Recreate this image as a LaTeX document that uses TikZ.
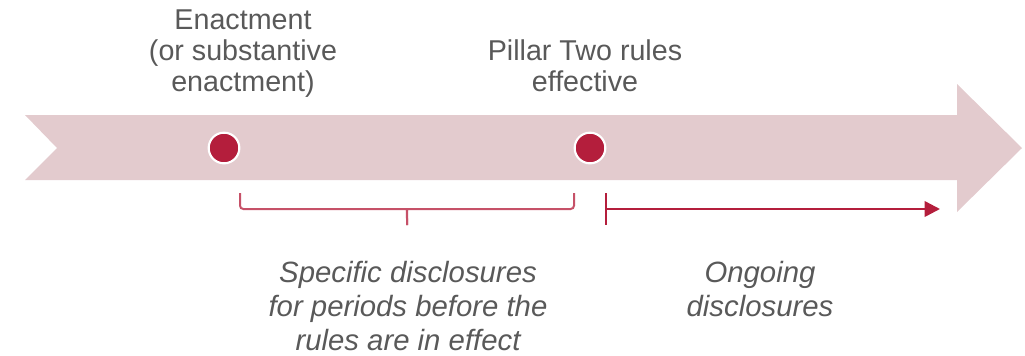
\documentclass[tikz,border=0pt]{standalone}
\usepackage{fontspec}
\setmainfont{Liberation Sans}
\usepackage{tikz}
\usetikzlibrary{arrows.meta}
\definecolor{bandpink}{HTML}{E3CBCE}
\definecolor{dotred}{HTML}{B41E3C}
\definecolor{bracered}{HTML}{C65168}
\definecolor{textgrey}{HTML}{595959}

\begin{document}
\begin{tikzpicture}[x=0.75pt,y=-0.75pt,
        label/.style={text=textgrey,align=center,anchor=base,inner sep=0pt,
            font=\fontsize{21.5}{23.25}\selectfont},
        note/.style={label,font=\fontsize{22}{25.5}\selectfont\itshape},
        milestone/.style={circle,fill=dotred,draw=white,line width=1.6pt,
            minimum size=23pt,inner sep=0pt}]
    \useasboundingbox (0,0) rectangle (1025,355);
    % timeline band
    \fill[bandpink] (25,115) -- (957,115) -- (957,84) -- (1022,148) -- (957,212)
        -- (957,180) -- (25,180) -- (57,148) -- cycle;
    % milestones
    \node[milestone] (enact) at (224,148) {};
    \node[milestone] (effect) at (590,148) {};
    \node[label] (enacttxt) at (243,91) {Enactment\\(or substantive\\enactment)};
    \node[label] (effecttxt) at (585,91) {Pillar Two rules\\effective};
    % brace under the first period
    \coordinate (bl) at (240,193);
    \coordinate (br) at (574,193);
    \coordinate (bm) at (407,225);
    \draw[bracered,line width=1.5pt,rounded corners=2.5pt]
        (bl) -- (240,209) -- (403,209) .. controls (407,209) .. (bm);
    \draw[bracered,line width=1.5pt,rounded corners=2.5pt]
        (br) -- (574,209) -- (411,209) .. controls (407,209) .. (bm);
    % ongoing arrow
    \coordinate (tt) at (606,193);
    \coordinate (tb) at (606,225);
    \coordinate (ts) at (606,209);
    \coordinate (te) at (940,209);
    \draw[dotred,line width=1.2pt] (tt) -- (tb);
    \draw[dotred,line width=1.9pt,-{Triangle[length=11.5pt,width=11.5pt]}] (ts) -- (te);
    \node[note] (spectxt) at (408,350) {Specific disclosures\\for periods before the\\rules are in effect};
    \node[note] (ongotxt) at (760,316) {Ongoing\\disclosures};
\end{tikzpicture}
\end{document}
